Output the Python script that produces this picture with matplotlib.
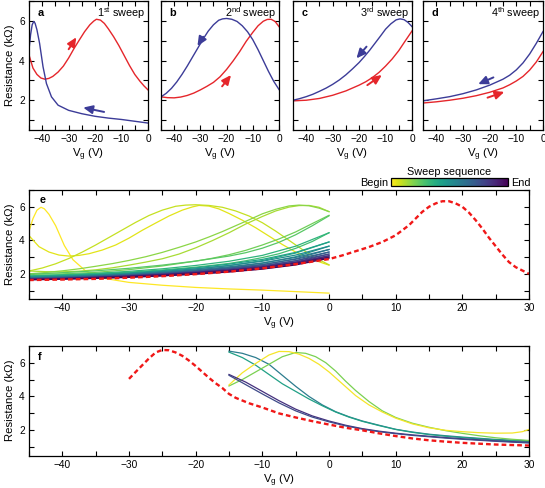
import numpy as np
import matplotlib
matplotlib.use("Agg")
import matplotlib.pyplot as plt
from matplotlib.ticker import MultipleLocator, NullFormatter
from matplotlib.cm import ScalarMappable
from matplotlib.colors import Normalize

plt.rcParams['font.family'] = ['Liberation Sans', 'DejaVu Sans']
plt.rcParams['mathtext.fontset'] = 'custom'
plt.rcParams['mathtext.rm'] = 'Liberation Sans'
plt.rcParams['mathtext.it'] = 'Liberation Sans:italic'
plt.rcParams['axes.unicode_minus'] = True

# ---------------- data: panels a-d (sweeps 1-4) ----------------
a_blue_V = [0, -5, -10, -15, -20, -25, -30, -34, -36.5, -38.4, -39.7, -41, -42, -42.7, -43.2, -43.8, -44.4, -45]
a_blue_R = [0.85, 0.94, 1.03, 1.10, 1.19, 1.32, 1.49, 1.75, 2.17, 2.84, 3.69, 4.87, 5.55, 5.88, 5.97, 5.8, 5.3, 4.55]
a_red_V = [-45, -43.5, -42, -40.5, -39, -37.5, -36, -34, -32, -30, -28, -26, -24, -22, -20.5, -19.5, -18,
           -16.5, -15, -13, -11, -9, -7, -5, -3, -1.5, 0]
a_red_R = [4.28, 3.62, 3.3, 3.12, 3.06, 3.1, 3.2, 3.42, 3.72, 4.13, 4.6, 5.03, 5.45, 5.8, 5.99, 6.08, 6.04,
           5.87, 5.6, 5.2, 4.75, 4.25, 3.75, 3.3, 2.95, 2.72, 2.52]

b_blue_V = [0, -2, -4, -6, -8, -10, -12, -14, -16, -18, -20, -21.5, -23, -25, -27, -29, -31, -33, -35, -37,
            -39, -41, -43, -45]
b_blue_R = [2.54, 2.95, 3.45, 4.0, 4.55, 5.05, 5.45, 5.75, 5.97, 6.08, 6.12, 6.1, 6.03, 5.8, 5.48, 5.07, 4.62,
            4.17, 3.72, 3.3, 2.92, 2.6, 2.35, 2.17]
b_red_V = [-45, -42.5, -40, -37.5, -35, -32.5, -30, -27.5, -25, -22.5, -20, -17.5, -15, -12.5, -10, -8, -6,
           -4.5, -3, -1.5, 0]
b_red_R = [2.17, 2.13, 2.12, 2.16, 2.24, 2.36, 2.52, 2.7, 2.9, 3.18, 3.55, 3.98, 4.45, 4.97, 5.42, 5.75, 5.98,
           6.07, 6.08, 5.97, 5.71]

c_blue_V = [0, -1.5, -3, -4.5, -6, -8, -10, -12, -14, -16, -18, -20, -22.5, -25, -27.5, -30, -32.5, -35,
            -37.5, -40, -42.5, -45]
c_blue_R = [5.71, 5.92, 6.06, 6.1, 6.05, 5.85, 5.58, 5.22, 4.87, 4.52, 4.2, 3.9, 3.58, 3.28, 3.02, 2.8, 2.61,
            2.45, 2.3, 2.18, 2.08, 2.0]
c_red_V = [-45, -40, -35, -30, -25, -20, -17.5, -15, -12.5, -10, -7.5, -5, -2.5, 0]
c_red_R = [1.97, 2.0, 2.09, 2.25, 2.47, 2.76, 2.93, 3.14, 3.4, 3.72, 4.08, 4.5, 5.0, 5.49]

d_blue_V = [0, -2.5, -5, -7.5, -10, -12.5, -15, -20, -25, -30, -35, -40, -45]
d_blue_R = [5.46, 4.87, 4.33, 3.88, 3.53, 3.26, 3.06, 2.76, 2.52, 2.33, 2.18, 2.07, 1.97]
d_red_V = [-45, -40, -35, -30, -25, -20, -15, -12.5, -10, -7.5, -5, -2.5, 0]
d_red_R = [1.86, 1.92, 2.0, 2.1, 2.23, 2.4, 2.62, 2.78, 2.97, 3.2, 3.52, 3.93, 4.45]

sweep_titles = ['1$^{\\rm st}$ sweep', '2$^{\\rm nd}$ sweep', '3$^{\\rm rd}$ sweep', '4$^{\\rm th}$ sweep']
panel_letters = ['a', 'b', 'c', 'd', 'e', 'f']

# arrows (tail V, tail R, head V, head R)
arrows_red = [(-30, 4.57, -27.1, 5.17), (-21.7, 2.7, -18.3, 3.27), (-16.9, 2.76, -11.4, 3.27), (-20.8, 2.13, -14.5, 2.42)]
arrows_blue = [(-16.6, 1.41, -24.5, 1.63), (-28.9, 5.2, -31.1, 4.73), (-17.2, 4.7, -21.0, 4.11), (-18.6, 3.15, -24.3, 2.81)]

# ---------------- data: panel e later sweeps (grid -45..0) ----------------
e_grid_V = [-45, -40, -35, -30, -25, -20, -15, -10, -5, 0]
e_later_R = [
    [1.88, 1.95, 2.03, 2.15, 2.30, 2.50, 2.75, 3.10, 3.65, 4.45],
    [1.85, 1.89, 1.95, 2.03, 2.14, 2.29, 2.49, 2.79, 3.24, 3.90],
    [1.83, 1.89, 1.96, 2.06, 2.19, 2.36, 2.58, 2.86, 3.28, 3.90],
    [1.80, 1.84, 1.90, 1.97, 2.07, 2.20, 2.38, 2.63, 3.02, 3.65],
    [1.78, 1.84, 1.92, 2.01, 2.14, 2.30, 2.50, 2.75, 3.12, 3.65],
    [1.76, 1.80, 1.85, 1.92, 2.02, 2.14, 2.31, 2.54, 2.90, 3.45],
    [1.75, 1.81, 1.88, 1.97, 2.09, 2.24, 2.42, 2.65, 2.98, 3.45],
    [1.73, 1.77, 1.82, 1.89, 1.98, 2.09, 2.24, 2.45, 2.78, 3.30],
    [1.72, 1.78, 1.85, 1.93, 2.04, 2.18, 2.35, 2.56, 2.87, 3.30],
    [1.70, 1.74, 1.79, 1.86, 1.95, 2.06, 2.20, 2.40, 2.70, 3.18],
    [1.70, 1.75, 1.82, 1.90, 2.00, 2.13, 2.29, 2.49, 2.78, 3.18],
    [1.68, 1.72, 1.77, 1.83, 1.92, 2.03, 2.16, 2.35, 2.63, 3.08],
    [1.68, 1.73, 1.80, 1.87, 1.97, 2.09, 2.24, 2.43, 2.70, 3.08],
    [1.66, 1.70, 1.75, 1.81, 1.89, 2.00, 2.13, 2.31, 2.57, 3.00],
    [1.66, 1.71, 1.78, 1.85, 1.94, 2.06, 2.20, 2.38, 2.64, 3.00],
    [1.64, 1.68, 1.73, 1.79, 1.88, 1.98, 2.11, 2.28, 2.53, 2.93],
]
e_ref_V = [-45, -40, -35, -30, -25, -20, -15, -10, -5, 0, 2, 4, 6, 8, 10, 12, 14, 15, 16, 17, 18, 19, 20,
           21, 22, 23, 24, 25, 26, 27, 28, 29, 30]
e_ref_R = [1.63, 1.66, 1.70, 1.77, 1.86, 1.98, 2.13, 2.33, 2.58, 2.88, 3.1, 3.35, 3.6, 3.9, 4.3, 4.9, 5.7,
           6.0, 6.2, 6.33, 6.33, 6.2, 6.0, 5.65, 5.2, 4.7, 4.15, 3.65, 3.15, 2.7, 2.4, 2.2, 2.0]

# ---------------- data: panel f ----------------
f_yellow_V = [-15, -13, -11, -9, -7.5, -6, -4.5, -3, -1.5, 0, 2, 4, 6, 8, 10, 12.5, 15, 17.5, 20, 22.5, 25, 27.5, 29, 30]
f_yellow_R = [4.68, 5.4, 5.95, 6.45, 6.66, 6.65, 6.5, 6.25, 5.9, 5.45, 4.75, 4.05, 3.5, 3.08, 2.72, 2.38,
              2.15, 2.0, 1.92, 1.86, 1.83, 1.84, 1.92, 2.05]
f_green_V = [-15, -13, -11, -9, -7, -5, -3.5, -2, -0.5, 1, 2.5, 4, 6, 8, 10, 12.5, 15, 17.5, 20, 22.5, 25, 27.5, 30]
f_green_R = [4.62, 5.0, 5.45, 5.9, 6.35, 6.6, 6.55, 6.35, 6.0, 5.5, 4.9, 4.35, 3.7, 3.15, 2.76, 2.42, 2.18,
             1.98, 1.82, 1.68, 1.56, 1.47, 1.4]
f_teal_V = [-15, -13, -11, -9, -7, -5, -3, -1, 1, 3, 5, 7.5, 10, 12.5, 15, 17.5, 20, 22.5, 25, 27.5, 30]
f_teal1_R = [6.68, 6.55, 6.3, 5.9, 5.25, 4.6, 4.0, 3.5, 3.1, 2.8, 2.55, 2.3, 2.06, 1.9, 1.77, 1.68, 1.6,
             1.53, 1.46, 1.42, 1.38]
f_teal2_R = [6.62, 6.3, 5.85, 5.3, 4.75, 4.3, 3.85, 3.45, 3.08, 2.78, 2.53, 2.28, 2.05, 1.88, 1.75, 1.65,
             1.57, 1.5, 1.43, 1.38, 1.34]
f_purple_V = [-15, -12.5, -10, -7.5, -5, -2.5, 0, 2.5, 5, 7.5, 10, 12.5, 15, 17.5, 20, 22.5, 25, 27.5, 30]
f_purple1_R = [5.3, 4.85, 4.3, 3.75, 3.25, 2.85, 2.55, 2.3, 2.1, 1.95, 1.83, 1.73, 1.65, 1.57, 1.5, 1.44,
               1.38, 1.33, 1.29]
f_purple2_R = [5.25, 4.7, 4.15, 3.62, 3.15, 2.78, 2.5, 2.26, 2.07, 1.92, 1.8, 1.7, 1.62, 1.54, 1.47, 1.41,
               1.35, 1.3, 1.25]
f_ref_V = [-30, -29, -28, -27, -26, -25, -24, -23, -22, -21, -20, -19, -18, -17, -16, -15, -14, -12, -10,
           -7.5, -5, -2.5, 0, 2.5, 5, 7.5, 10, 12.5, 15, 17.5, 20, 22.5, 25, 27.5, 30]
f_ref_R = [5.04, 5.45, 5.85, 6.25, 6.6, 6.75, 6.73, 6.6, 6.4, 6.12, 5.8, 5.45, 5.1, 4.78, 4.5, 4.15, 3.92,
           3.6, 3.35, 3.0, 2.76, 2.54, 2.34, 2.15, 2.0, 1.82, 1.66, 1.52, 1.41, 1.33, 1.26, 1.21, 1.16, 1.13, 1.1]

# ---------------- styling ----------------
RED = '#e5262b'
BLUE = '#3c3c98'
W, H = 545, 488
fig = plt.figure(figsize=(W / 100, H / 100), dpi=100)


def box(x0, y0, x1, y1):
    return [x0 / W, 1 - y1 / H, (x1 - x0) / W, (y1 - y0) / H]


def style(ax, xlim, ylab=True):
    ax.set_xlim(*xlim)
    ax.set_ylim(0.5, 7)
    ax.xaxis.set_major_locator(MultipleLocator(10))
    ax.xaxis.set_minor_locator(MultipleLocator(5))
    ax.yaxis.set_major_locator(MultipleLocator(2))
    ax.yaxis.set_minor_locator(MultipleLocator(1))
    ax.tick_params(which='both', direction='in', top=True, right=True, labelsize=7.3, width=0.8, pad=3)
    ax.tick_params(which='major', length=3.5)
    ax.tick_params(which='minor', length=3.5)
    for s in ax.spines.values():
        s.set_linewidth(0.9)
    ax.set_xlabel('V$_{\\rm g}$ (V)', fontsize=8.2, labelpad=2)
    if ylab:
        ax.set_ylabel('Resistance (k\u03a9)', fontsize=8.2, labelpad=3)
    else:
        ax.yaxis.set_major_formatter(NullFormatter())


top_boxes = [(29, 1, 148, 130), (161, 1, 279, 130), (293, 1, 412, 130), (423, 1, 543, 130)]
top_data = [(a_blue_V, a_blue_R, a_red_V, a_red_R), (b_blue_V, b_blue_R, b_red_V, b_red_R),
            (c_blue_V, c_blue_R, c_red_V, c_red_R), (d_blue_V, d_blue_R, d_red_V, d_red_R)]
for i in range(4):
    ax = fig.add_axes(box(*top_boxes[i]))
    bv, br, rv, rr = top_data[i]
    ax.plot(rv, rr, color=RED, lw=1.0)
    ax.plot(bv, br, color=BLUE, lw=1.0)
    style(ax, (-45, 0), ylab=(i == 0))
    for (x0, y0, x1, y1), col in [(arrows_red[i], RED), (arrows_blue[i], BLUE)]:
        ax.annotate('', xy=(x1, y1), xytext=(x0, y0),
                    arrowprops=dict(arrowstyle='-|>,head_length=0.55,head_width=0.25', color=col, lw=1.4,
                                    shrinkA=0, shrinkB=0))
    ax.text(0.07, 0.905, panel_letters[i], transform=ax.transAxes, fontsize=7.8, fontweight='bold',
            va='center', ha='left')
    ax.text(0.975, 0.905, sweep_titles[i], transform=ax.transAxes, fontsize=7.8, va='center', ha='right')

# ---------------- panel e ----------------
axe = fig.add_axes(box(29, 190, 529, 299))
e_curves = [(a_blue_V, a_blue_R), (a_red_V, a_red_R), (b_blue_V, b_blue_R), (b_red_V, b_red_R),
            (c_blue_V, c_blue_R), (c_red_V, c_red_R), (d_blue_V, d_blue_R), (d_red_V, d_red_R)]
e_curves += [(e_grid_V, r) for r in e_later_R]
cmap = plt.get_cmap('viridis_r')
n = len(e_curves)
for k, (v, r) in enumerate(e_curves):
    axe.plot(v, r, color=cmap(k / (n - 1)), lw=0.9)
axe.plot(e_ref_V, e_ref_R, color='#f01818', lw=1.7, dashes=(2.0, 1.3))
style(axe, (-45, 30))
axe.text(0.022, 0.905, 'e', transform=axe.transAxes, fontsize=7.8, fontweight='bold', va='center')

# colorbar
cax = fig.add_axes(box(391, 178.3, 508, 186))
cb = fig.colorbar(ScalarMappable(norm=Normalize(0, 1), cmap='viridis_r'), cax=cax, orientation='horizontal')
cb.set_ticks([])
cb.outline.set_linewidth(0.9)
fig.text(449 / W, 1 - 172.5 / H, 'Sweep sequence', fontsize=7.8, ha='center', va='center')
fig.text(388 / W, 1 - 183 / H, 'Begin', fontsize=7.8, ha='right', va='center')
fig.text(511 / W, 1 - 183 / H, 'End', fontsize=7.8, ha='left', va='center')

# ---------------- panel f ----------------
axf = fig.add_axes(box(29, 345.7, 529, 455.7))
axf.plot(f_teal_V, f_teal1_R, color='#2c7c8e', lw=0.9)
axf.plot(f_teal_V, f_teal2_R, color='#21a086', lw=0.9)
axf.plot(f_green_V, f_green_R, color='#7ad151', lw=0.9)
axf.plot(f_yellow_V, f_yellow_R, color='#f5e52a', lw=0.9)
axf.plot(f_purple_V, f_purple1_R, color='#45307d', lw=0.9)
axf.plot(f_purple_V, f_purple2_R, color='#3e4a89', lw=0.9)
axf.plot(f_ref_V, f_ref_R, color='#f01818', lw=1.7, dashes=(2.0, 1.3))
style(axf, (-45, 30))
axf.text(0.018, 0.9, 'f', transform=axf.transAxes, fontsize=7.8, fontweight='bold', va='center')

fig.savefig('out.png', dpi=100)
